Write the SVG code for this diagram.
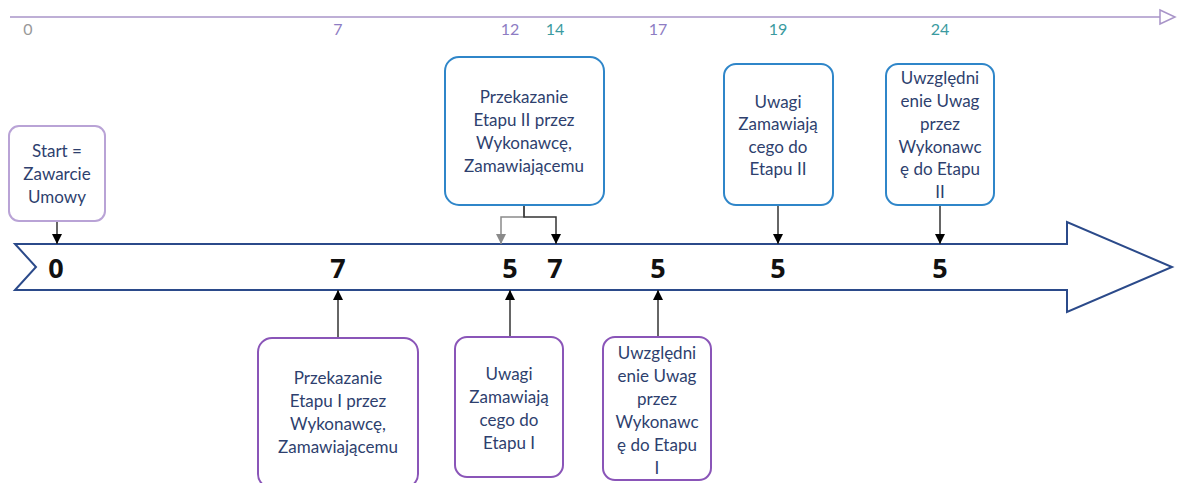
<svg xmlns="http://www.w3.org/2000/svg" width="1184" height="483" viewBox="0 0 1184 483">
<style>
.t{font-family:Lato,"Open Sans",sans-serif;font-size:17px;fill:#2e3f6e;text-anchor:middle}
.n{font-family:"Open Sans",Lato,sans-serif;font-size:27px;font-weight:bold;fill:#111;text-anchor:middle}
.s{font-family:Lato,"Open Sans",sans-serif;font-size:16px;text-anchor:middle}
.bb{fill:#fff;stroke:#2f86c9;stroke-width:2}
.pb{fill:#fff;stroke:#8a55b8;stroke-width:2}
.lb{fill:#fff;stroke:#b9a3d6;stroke-width:2}
.c{stroke:#333;stroke-width:1.5;fill:none}
</style>
<defs>
<marker id="ah" markerWidth="10" markerHeight="10" refX="10" refY="5" orient="auto" markerUnits="userSpaceOnUse"><path d="M0,0 L10,5 L0,10 z" fill="#000"/></marker>
<marker id="ag" markerWidth="10" markerHeight="10" refX="10" refY="5" orient="auto" markerUnits="userSpaceOnUse"><path d="M0,0 L10,5 L0,10 z" fill="#8a8a8a"/></marker>
</defs>
<g id="scale">
<line x1="10" y1="17" x2="1161" y2="17" stroke="#a894c8" stroke-width="1.5"/>
<path d="M1160,10 L1175,17 L1160,24 z" fill="#fff" stroke="#a894c8" stroke-width="1.5"/>
<text class="s" x="28" y="35" fill="#999">0</text>
<text class="s" x="338" y="35" fill="#8e7cc3">7</text>
<text class="s" x="510" y="35" fill="#8e7cc3">12</text>
<text class="s" x="555" y="35" fill="#3a9aa0">14</text>
<text class="s" x="658" y="35" fill="#8e7cc3">17</text>
<text class="s" x="778" y="35" fill="#3a9aa0">19</text>
<text class="s" x="940" y="35" fill="#3a9aa0">24</text>
</g>
<g id="timeline">
<path d="M15,244 L1067,244 L1067,222 L1172,267 L1067,312 L1067,290 L15,290 L36,267 z" fill="#fff" stroke="#2b4a8a" stroke-width="2"/>
<text class="n" x="56" y="278">0</text>
<text class="n" x="338" y="278">7</text>
<text class="n" x="510" y="278">5</text>
<text class="n" x="555" y="278">7</text>
<text class="n" x="658" y="278">5</text>
<text class="n" x="778" y="278">5</text>
<text class="n" x="940" y="278">5</text>
</g>
<g id="connectors">
<line class="c" x1="57" y1="221" x2="57" y2="244" marker-end="url(#ah)"/>
<path d="M524,205 L524,217 L501,217 L501,244" stroke="#8a8a8a" stroke-width="1.5" fill="none" marker-end="url(#ag)"/>
<path class="c" d="M524,205 L524,217 L556,217 L556,244" marker-end="url(#ah)"/>
<line class="c" x1="778" y1="205" x2="778" y2="244" marker-end="url(#ah)"/>
<line class="c" x1="940" y1="205" x2="940" y2="244" marker-end="url(#ah)"/>
<line class="c" x1="338" y1="338" x2="338" y2="290" marker-end="url(#ah)"/>
<line class="c" x1="510" y1="337" x2="510" y2="290" marker-end="url(#ah)"/>
<line class="c" x1="658" y1="337" x2="658" y2="290" marker-end="url(#ah)"/>
</g>
<g id="start">
<rect class="lb" x="9" y="126" width="96" height="95" rx="10"/>
<text class="t" x="57" y="157">Start =</text>
<text class="t" x="57" y="180">Zawarcie</text>
<text class="t" x="57" y="203">Umowy</text>
</g>
<g id="etap2-przekazanie">
<rect class="bb" x="445" y="57" width="159" height="148" rx="14"/>
<text class="t" x="524" y="103">Przekazanie</text>
<text class="t" x="524" y="126">Etapu II przez</text>
<text class="t" x="524" y="149">Wykonawcę,</text>
<text class="t" x="524" y="172">Zamawiającemu</text>
</g>
<g id="etap2-uwagi">
<rect class="bb" x="724" y="64" width="109" height="141" rx="12"/>
<text class="t" x="778" y="108">Uwagi</text>
<text class="t" x="778" y="130">Zamawiają</text>
<text class="t" x="778" y="153">cego do</text>
<text class="t" x="778" y="175">Etapu II</text>
</g>
<g id="etap2-uwzglednienie">
<rect class="bb" x="886" y="64" width="108" height="141" rx="12"/>
<text class="t" x="940" y="84">Uwzględni</text>
<text class="t" x="940" y="107">enie Uwag</text>
<text class="t" x="940" y="130">przez</text>
<text class="t" x="940" y="153">Wykonawc</text>
<text class="t" x="940" y="175">ę do Etapu</text>
<text class="t" x="940" y="198">II</text>
</g>
<g id="etap1-przekazanie">
<rect class="pb" x="258" y="338" width="160" height="150" rx="14"/>
<text class="t" x="338" y="384">Przekazanie</text>
<text class="t" x="338" y="407">Etapu I przez</text>
<text class="t" x="338" y="430">Wykonawcę,</text>
<text class="t" x="338" y="453">Zamawiającemu</text>
</g>
<g id="etap1-uwagi">
<rect class="pb" x="455" y="337" width="108" height="140" rx="12"/>
<text class="t" x="509" y="380">Uwagi</text>
<text class="t" x="509" y="403">Zamawiają</text>
<text class="t" x="509" y="426">cego do</text>
<text class="t" x="509" y="449">Etapu I</text>
</g>
<g id="etap1-uwzglednienie">
<rect class="pb" x="603" y="337" width="108" height="143" rx="12"/>
<text class="t" x="657" y="359">Uwzględni</text>
<text class="t" x="657" y="382">enie Uwag</text>
<text class="t" x="657" y="405">przez</text>
<text class="t" x="657" y="428">Wykonawc</text>
<text class="t" x="657" y="451">ę do Etapu</text>
<text class="t" x="657" y="474">I</text>
</g>
</svg>
